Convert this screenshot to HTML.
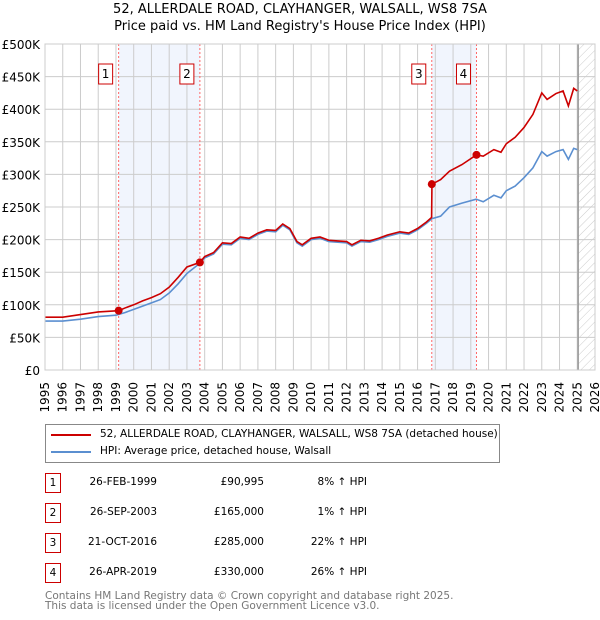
<!DOCTYPE html>
<html><head><meta charset="utf-8">
<style>
body{margin:0;background:#fff;font-family:"DejaVu Sans","Liberation Sans",sans-serif;}
#wrap{position:relative;width:600px;height:620px;overflow:hidden}
.t{position:absolute;font-size:10.5px;color:#000;white-space:nowrap}
.box{position:absolute;width:14px;height:18px;border:1px solid #c00;font-size:10.5px;text-align:center;line-height:18px;background:#fff}
</style></head><body>
<div id="wrap">
<div class="t" style="left:0;width:600px;text-align:center;top:2px;font-size:13px">52, ALLERDALE ROAD, CLAYHANGER, WALSALL, WS8 7SA</div>
<div class="t" style="left:0;width:600px;text-align:center;top:19px;font-size:13px">Price paid vs. HM Land Registry's House Price Index (HPI)</div>
<svg id="chart" width="600" height="420" style="position:absolute;left:0;top:0"></svg>
<div style="position:absolute;left:45px;top:424px;width:453px;height:37px;border:1px solid #888;background:#fff">
 <div><div style="position:absolute;left:5px;top:9px;width:40px;height:2px;background:#c00"></div><div class="t" style="left:54px;top:3px">52, ALLERDALE ROAD, CLAYHANGER, WALSALL, WS8 7SA (detached house)</div></div>
 <div><div style="position:absolute;left:5px;top:26px;width:40px;height:2px;background:#5b8fd0"></div><div class="t" style="left:54px;top:20px">HPI: Average price, detached house, Walsall</div></div>
</div>
<div id="table"></div>
<div class="t" style="left:45px;top:590px;color:#777">Contains HM Land Registry data © Crown copyright and database right 2025.</div>
<div class="t" style="left:45px;top:600px;color:#777">This data is licensed under the Open Government Licence v3.0.</div>
</div>
<script>
const hpiYears=[1995,1996,1997,1998,1999,1999.5,2000,2000.5,2001,2001.5,2002,2002.5,2003,2003.7,2004,2004.5,2005,2005.5,2006,2006.5,2007,2007.5,2008,2008.4,2008.8,2009.2,2009.5,2010,2010.5,2011,2011.5,2012,2012.3,2012.8,2013.3,2013.8,2014.3,2015,2015.5,2016,2016.5,2016.8,2017.3,2017.8,2018.5,2019.3,2019.7,2020.3,2020.7,2021,2021.5,2022,2022.5,2023,2023.3,2023.8,2024.2,2024.5,2024.8,2025];
const hpiValues=[75,75,78,82,84,88,93,98,103,108,118,132,148,163,172,178,193,192,202,200,208,213,212,222,215,195,190,200,202,197,196,195,190,197,196,200,205,210,208,215,225,232,236,250,256,262,258,268,264,275,282,295,310,335,328,335,338,323,340,338];
const priceYears=[1995,1996,1997,1998,1999.15,1999.5,2000,2000.5,2001,2001.5,2002,2002.5,2003,2003.73,2004,2004.5,2005,2005.5,2006,2006.5,2007,2007.5,2008,2008.4,2008.8,2009.2,2009.5,2010,2010.5,2011,2011.5,2012,2012.3,2012.8,2013.3,2013.8,2014.3,2015,2015.5,2016,2016.5,2016.79,2016.81,2017.3,2017.8,2018.5,2019.32,2019.7,2020.3,2020.7,2021,2021.5,2022,2022.5,2023,2023.3,2023.8,2024.2,2024.5,2024.8,2025];
const priceValues=[81,81,85,89,91,95,100,106,111,117,127,142,158,165,174,180,195,194,204,202,210,215,214,224,217,197,192,202,204,199,198,197,192,199,198,202,207,212,210,217,227,234,285,292,305,315,330,328,338,334,347,357,372,392,425,415,424,428,405,432,428];
const saleYears=[1999.15,2003.73,2016.8,2019.32];
const saleValues=[90.995,165,285,330];
const saleLabels=["1","2","3","4"];
const saleDates=["26-FEB-1999","26-SEP-2003","21-OCT-2016","26-APR-2019"];
const salePrices=["£90,995","£165,000","£285,000","£330,000"];
const salePcts=["8% ↑ HPI","1% ↑ HPI","22% ↑ HPI","26% ↑ HPI"];
const yTicks=[0,50,100,150,200,250,300,350,400,450,500];
const yTickLabels=["£0","£50K","£100K","£150K","£200K","£250K","£300K","£350K","£400K","£450K","£500K"];
const xTicks=[1995,1996,1997,1998,1999,2000,2001,2002,2003,2004,2005,2006,2007,2008,2009,2010,2011,2012,2013,2014,2015,2016,2017,2018,2019,2020,2021,2022,2023,2024,2025,2026];

const L=45,R=595,T=44,B=370;
const X=y=>L+(y-1995)/(2026-1995)*(R-L);
const Y=v=>B-v/500*(B-T);
const NS="http://www.w3.org/2000/svg";
const svg=document.getElementById('chart');
function mk(tag,at,parent){const e=document.createElementNS(NS,tag);for(const k in at)e.setAttribute(k,at[k]);(parent||svg).appendChild(e);return e;}
const defs=mk('defs',{});
const pat=mk('pattern',{id:'hatch',width:6,height:6,patternUnits:'userSpaceOnUse',patternTransform:'rotate(45)'},defs);
mk('line',{x1:0,y1:0,x2:0,y2:6,stroke:'#ccc','stroke-width':1},pat);
[[0,1],[2,3]].forEach((p,i)=>{const r=mk('rect',{x:X(saleYears[p[0]]),y:T,width:X(saleYears[p[1]])-X(saleYears[p[0]]),height:B-T,fill:'#eef3fd',opacity:0.8});
});
const h=mk('rect',{x:X(2025.05),y:T,width:R-X(2025.05),height:B-T,fill:'url(#hatch)'});

xTicks.forEach(t=>{const g=mk('line',{x1:X(t),x2:X(t),y1:T,y2:B,stroke:'#ccc','stroke-width':1});

const tx=mk('text',{x:0,y:0,'font-size':12,'text-anchor':'end',transform:`translate(${X(t)+4},382) rotate(-90)`,'font-family':'DejaVu Sans, sans-serif'});tx.textContent=t;
});
yTicks.forEach((t,i)=>{const g=mk('line',{x1:L,x2:R,y1:Y(t),y2:Y(t),stroke:'#ccc','stroke-width':1});

const tx=mk('text',{x:40,y:Y(t)+5,'font-size':12,'text-anchor':'end','font-family':'DejaVu Sans, sans-serif'});tx.textContent=yTickLabels[i];
});
const nl=mk('line',{x1:X(2025.05),x2:X(2025.05),y1:T,y2:B,stroke:'#999','stroke-width':1.5});

saleYears.forEach((s,i)=>{const d=mk('line',{x1:X(s),x2:X(s),y1:T,y2:B,stroke:'#f66','stroke-width':1,'stroke-dasharray':'2,2'});
});
const hp=mk('polyline',{points:hpiYears.map((y,i)=>X(y)+','+Y(hpiValues[i])).join(' '),fill:'none',stroke:'#5b8fd0','stroke-width':1.6});

const pp=mk('polyline',{points:priceYears.map((y,i)=>X(y)+','+Y(priceValues[i])).join(' '),fill:'none',stroke:'#c00','stroke-width':1.6});

saleYears.forEach((s,i)=>{const c=mk('circle',{cx:X(s),cy:Y(saleValues[i]),r:4,fill:'#c00'});

const g=mk('g',{});
mk('rect',{x:X(s)-20,y:64,width:14,height:20,fill:'#fff',stroke:'#c00','stroke-width':1},g);
const t=mk('text',{x:X(s)-13,y:78,'font-size':12,'text-anchor':'middle','font-family':'DejaVu Sans, sans-serif'},g);t.textContent=saleLabels[i];});
mk('rect',{x:L,y:T,width:R-L,height:B-T,fill:'none',stroke:'#ccc'});
const tb=document.getElementById('table');
saleLabels.forEach((l,i)=>{const cy=483+i*30;const row=document.createElement('div');

row.innerHTML=`<div class="box" style="left:45px;top:${cy-10}px">${l}</div>
<div class="t" style="right:443px;top:${cy-7}px">${saleDates[i]}</div>
<div class="t" style="right:336px;top:${cy-7}px">${salePrices[i]}</div>
<div class="t" style="right:233px;top:${cy-7}px">${salePcts[i]}</div>`;
tb.appendChild(row);});
</script>
</body></html>
